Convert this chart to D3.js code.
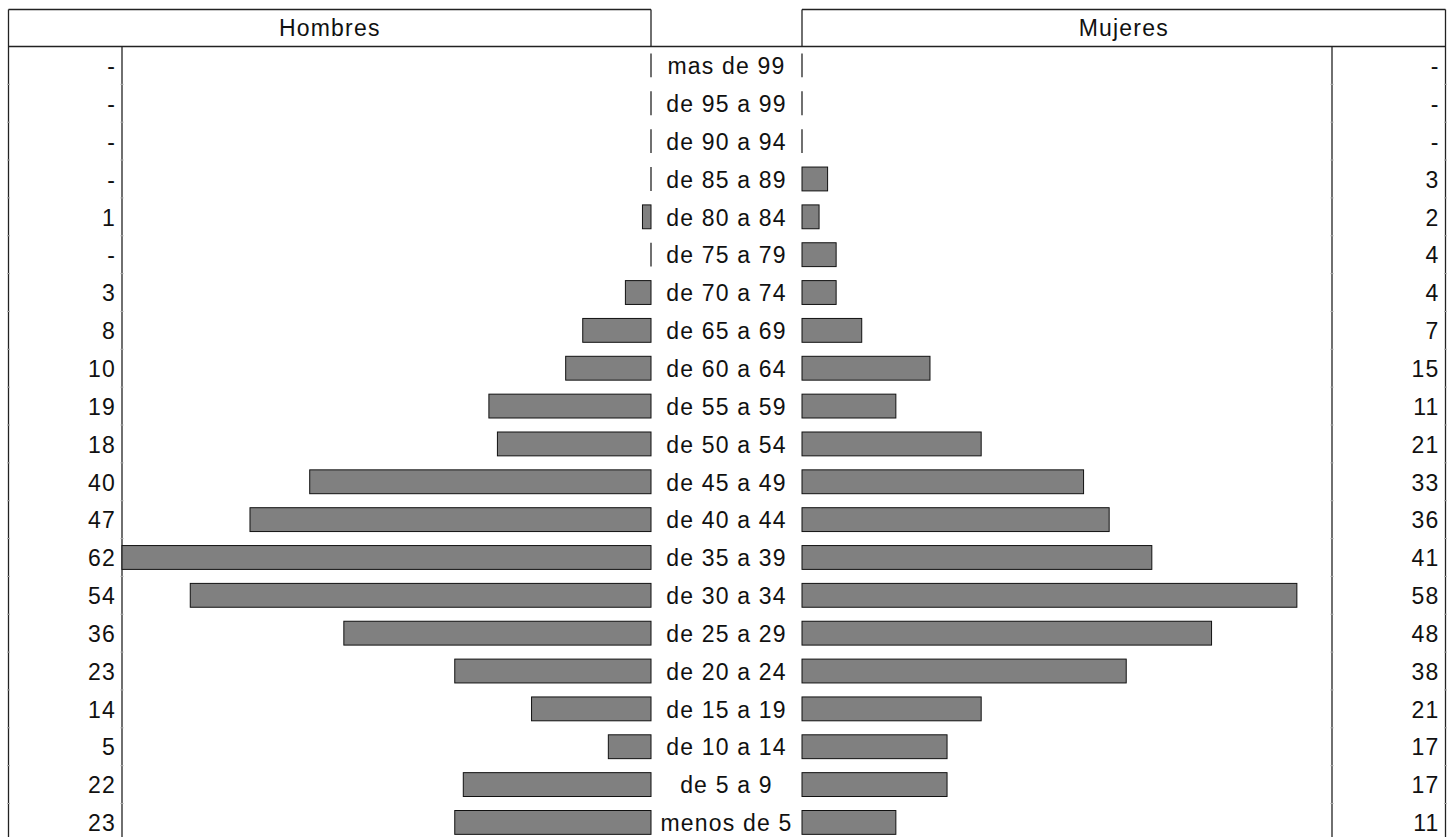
<!DOCTYPE html>
<html>
<head>
<meta charset="utf-8">
<script src="https://cdn.jsdelivr.net/npm/d3@7"></script>
<style>
  body { margin: 0; background: #fff; }
  text { font-family: "Liberation Sans", Arial, sans-serif; font-size: 23px; letter-spacing: 1.2px; fill: #111; }
</style>
</head>
<body>
<div class="chart"></div>
<script>

// age groups, top to bottom
const groups = ["mas de 99","de 95 a 99","de 90 a 94","de 85 a 89","de 80 a 84","de 75 a 79",
  "de 70 a 74","de 65 a 69","de 60 a 64","de 55 a 59","de 50 a 54","de 45 a 49","de 40 a 44",
  "de 35 a 39","de 30 a 34","de 25 a 29","de 20 a 24","de 15 a 19","de 10 a 14","de 5 a 9","menos de 5"];

const hombres = [0,0,0,0,1,0,3,8,10,19,18,40,47,62,54,36,23,14,5,22,23];
const mujeres = [0,0,0,3,2,4,4,7,15,11,21,33,36,41,58,48,38,21,17,17,11];

const headers = ["Hombres", "Mujeres"];

const fmt = v => v === 0 ? "-" : String(v);

document.addEventListener('DOMContentLoaded', () => {

  const width = 1456, height = 837;

  //Layout (pixels)
  const outerL = 8.5, outerR = 1445.5;
  const numL = 122, numR = 1332;     // inner lines next to the numbers
  const midL = 651, midR = 802;      // bars start here
  const top = 9.5, headBottom = 46.5;
  const rowH = 37.85;

  const svg = d3.select('.chart')
    .append('svg')
    .attr('width', width)
    .attr('height', height);

  const yScale = d3.scaleBand()
    .domain(groups)
    .range([headBottom, headBottom + rowH * groups.length])
    .paddingInner(0.37)
    .paddingOuter(0.185);

  const xScale = d3.scaleLinear()
    .domain([0, 62])
    .range([0, midL - numL]);

  const lineColor = "#222";

  //Frame
  const lines = [
    [outerL, top, midL, top],
    [midR, top, outerR, top],
    [outerL, headBottom, outerR, headBottom],
    [outerL, top, outerL, height],
    [outerR, top, outerR, height],
    [midL, top, midL, headBottom],
    [midR, top, midR, headBottom],
    [numL, headBottom, numL, height],
    [numR, headBottom, numR, height]
  ];
  svg.selectAll('.frame')
    .data(lines)
    .enter()
    .append('line')
    .attr('class', 'frame')
    .attr('x1', d => d[0]).attr('y1', d => d[1])
    .attr('x2', d => d[2]).attr('y2', d => d[3])
    .attr('stroke', lineColor)
    .attr('stroke-width', 1.3);

  //little ticks at row boundaries on the vertical lines
  const bounds = d3.range(1, groups.length).map(i => headBottom + i * rowH);
  [outerL, numL, numR, outerR].forEach(function(x) {
    svg.selectAll(null)
      .data(bounds)
      .enter()
      .append('line')
      .attr('x1', x - 1.5).attr('x2', x + 1.5)
      .attr('y1', d => d).attr('y2', d => d)
      .attr('stroke', '#aaa')
      .attr('stroke-width', 1);
  });

  //Headers
  svg.selectAll('.header')
    .data(headers)
    .enter()
    .append('text')
    .attr('class', 'header')
    .attr('x', (d, i) => i == 0 ? (outerL + midL) / 2 : (midR + outerR) / 2)
    .attr('y', (top + headBottom) / 2)
    .attr('dy', '0.36em')
    .attr('text-anchor', 'middle')
    .text(d => d);

  const rows = groups.map((g, i) => ({group: g, h: hombres[i], m: mujeres[i]}));

  //Bars - men (to the left)
  svg.selectAll('.bar_h')
    .data(rows)
    .enter()
    .append('rect')
    .attr('class', 'bar_h')
    .attr('x', d => midL - xScale(d.h))
    .attr('y', d => yScale(d.group))
    .attr('width', d => xScale(d.h))
    .attr('height', yScale.bandwidth())
    .attr('fill', '#808080')
    .attr('stroke', '#111')
    .attr('stroke-width', 1);

  //Bars - women (to the right)
  svg.selectAll('.bar_m')
    .data(rows)
    .enter()
    .append('rect')
    .attr('class', 'bar_m')
    .attr('x', midR)
    .attr('y', d => yScale(d.group))
    .attr('width', d => xScale(d.m))
    .attr('height', yScale.bandwidth())
    .attr('fill', '#808080')
    .attr('stroke', '#111')
    .attr('stroke-width', 1);

  //zero values still show a thin line
  svg.selectAll('.zero')
    .data(rows.flatMap(d => [d.h === 0 ? {x: midL, g: d.group} : null, d.m === 0 ? {x: midR, g: d.group} : null]).filter(d => d))
    .enter()
    .append('line')
    .attr('class', 'zero')
    .attr('x1', d => d.x).attr('x2', d => d.x)
    .attr('y1', d => yScale(d.group || d.g)).attr('y2', d => yScale(d.g) + yScale.bandwidth())
    .attr('stroke', '#111')
    .attr('stroke-width', 1.2);

  const cy = d => yScale(d.group) + yScale.bandwidth() / 2;

  //Age labels in the middle
  svg.selectAll('.age')
    .data(rows)
    .enter()
    .append('text')
    .attr('class', 'age')
    .attr('x', (midL + midR) / 2)
    .attr('y', cy)
    .attr('dy', '0.38em')
    .attr('text-anchor', 'middle')
    .text(d => d.group);

  //Values
  svg.selectAll('.val_h')
    .data(rows)
    .enter()
    .append('text')
    .attr('class', 'val_h')
    .attr('x', numL - 6)
    .attr('y', cy)
    .attr('dy', '0.38em')
    .attr('text-anchor', 'end')
    .text(d => fmt(d.h));

  svg.selectAll('.val_m')
    .data(rows)
    .enter()
    .append('text')
    .attr('class', 'val_m')
    .attr('x', outerR - 6)
    .attr('y', cy)
    .attr('dy', '0.38em')
    .attr('text-anchor', 'end')
    .text(d => fmt(d.m));

});
</script>
</body>
</html>
